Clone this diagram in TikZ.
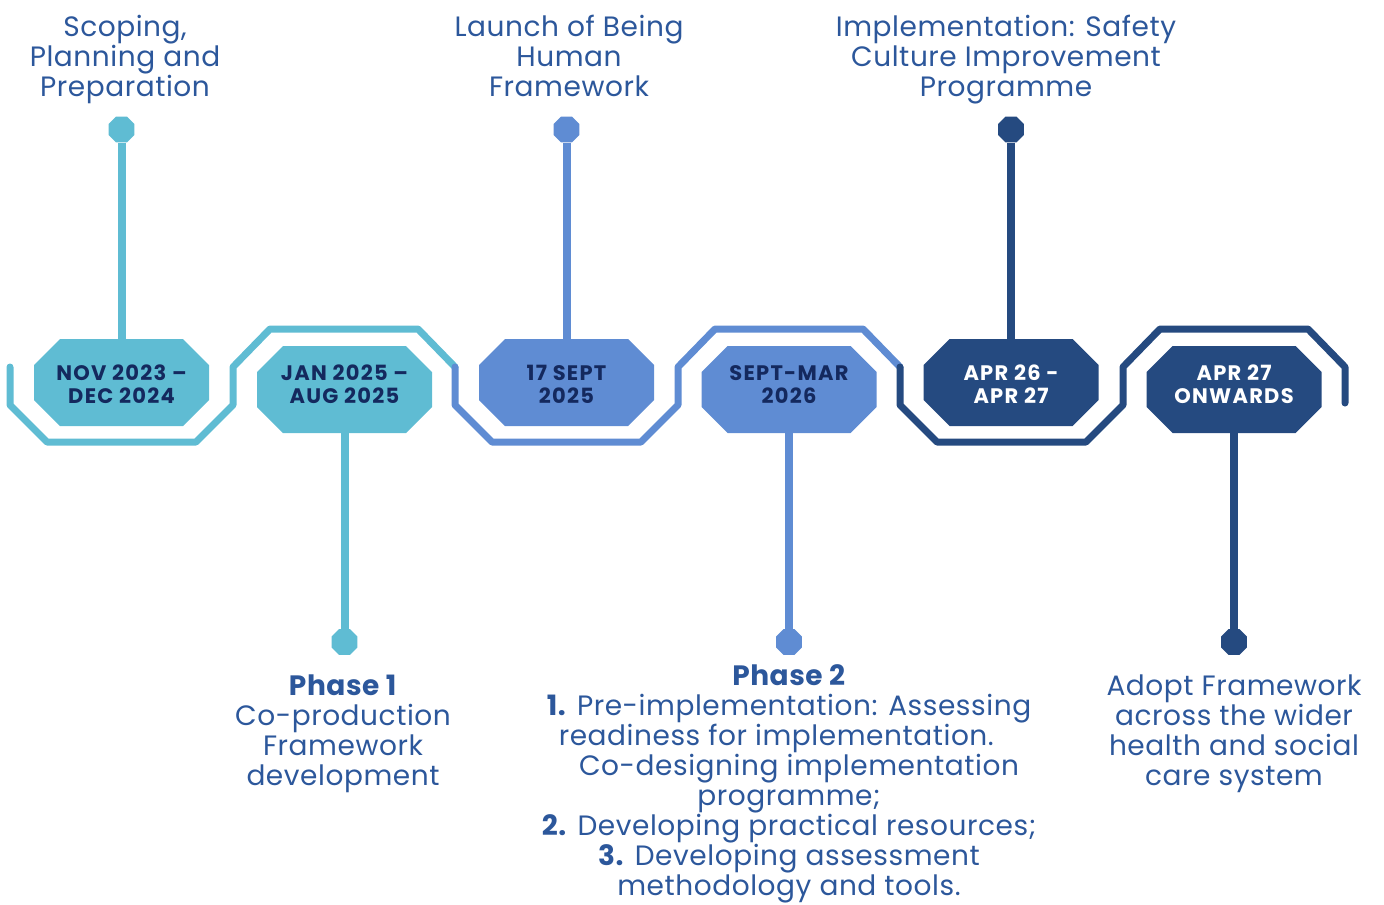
\documentclass[tikz,border=0pt]{standalone}
\usepackage{fontspec}
\setmainfont{Poppins}[LetterSpace=2]
\newfontfamily\badgefont{Poppins}[LetterSpace=6]
\usetikzlibrary{shapes.geometric}

\definecolor{cTeal}{HTML}{5FBCD3}
\definecolor{cBlue}{HTML}{5F8CD3}
\definecolor{cNavy}{HTML}{254A80}
\definecolor{cInk}{HTML}{14295E}
\definecolor{cLabel}{HTML}{2C579B}

% two-line badge caption, shifted vertically without changing its box
\newcommand\badgetext[3]{\raisebox{#1}[\height][\depth]{\begin{tabular}{@{}c@{}}#2\\#3\end{tabular}}}

\begin{document}
\begin{tikzpicture}[x=0.75pt,y=-0.75pt,
  track/.style={line width=5.25pt, line join=round, line cap=round},
  stem/.style={line width=6pt},
  badge/.style={rectangle, minimum width=131.25pt, minimum height=65.25pt, inner sep=0pt,
    font=\badgefont\bfseries\fontsize{15.75}{17}\selectfont, text=cInk,
    path picture={\fill[#1]
      ([xshift=19.5pt]path picture bounding box.north west)
      -- ([xshift=-19.5pt]path picture bounding box.north east)
      -- ([yshift=-19.5pt]path picture bounding box.north east)
      -- ([yshift=19.5pt]path picture bounding box.south east)
      -- ([xshift=-19.5pt]path picture bounding box.south east)
      -- ([xshift=19.5pt]path picture bounding box.south west)
      -- ([yshift=19.5pt]path picture bounding box.south west)
      -- ([yshift=-19.5pt]path picture bounding box.north west) -- cycle;}},
  dot/.style={regular polygon, regular polygon sides=8, minimum size=21pt,
    inner sep=0pt, fill=#1},
  lbl/.style={align=center, anchor=base, inner sep=0pt, text=cLabel,
    font=\fontsize{21}{22.5}\selectfont},
]
\useasboundingbox (0,0) rectangle (1384,904);

% winding track behind the badges
\draw[track, cTeal] (10,367) -- (10,405) -- (47,442) -- (196,442) -- (233,405)
  -- (233,367) -- (270,329) -- (418,329) -- (455,367);
\draw[track, cBlue] (455,367) -- (455,405) -- (492,442) -- (641,442) -- (678,405)
  -- (678,367) -- (715,329) -- (863,329) -- (900,367);
\draw[track, cNavy] (900,367) -- (900,405) -- (937,442) -- (1086,442) -- (1123,405)
  -- (1123,367) -- (1160,329) -- (1308,329) -- (1345,367) -- (1345,403);

% date badges
\node[badge=cTeal] (b1) at (121.5,382.5) {\badgetext{-3.75pt}{NOV 2023 –}{DEC 2024}};
\node[badge=cTeal] (b2) at (344.5,389.5) {\badgetext{1.5pt}{JAN 2025 –}{AUG 2025}};
\node[badge=cBlue] (b3) at (566.5,382.5) {\badgetext{-3.75pt}{17 SEPT}{2025}};
\node[badge=cBlue] (b4) at (789,389.5) {\badgetext{1.5pt}{SEPT-MAR}{2026}};
\node[badge=cNavy, text=white] (b5) at (1011,382.5) {\badgetext{-3.75pt}{APR 26 -}{APR 27}};
\node[badge=cNavy, text=white] (b6) at (1234,389.5) {\badgetext{1.5pt}{APR 27}{ONWARDS}};

% end dots of the stems
\node[dot=cTeal] (d1) at (121.5,129.5) {};
\node[dot=cTeal] (d2) at (344.5,642) {};
\node[dot=cBlue] (d3) at (566.5,129.5) {};
\node[dot=cBlue] (d4) at (789,642) {};
\node[dot=cNavy] (d5) at (1011,129.5) {};
\node[dot=cNavy] (d6) at (1234,642) {};

% stems
\draw[stem, cTeal] (d1) -- (b1);
\draw[stem, cTeal] (b2) -- (d2);
\draw[stem, cBlue] (d3) -- (b3);
\draw[stem, cBlue] (b4) -- (d4);
\draw[stem, cNavy] (d5) -- (b5);
\draw[stem, cNavy] (b6) -- (d6);

% milestone captions (placed by the baseline of their last line)
\node[lbl] (t1) at (125,96) {Scoping,\\Planning and\\Preparation};
\node[lbl] (t3) at (569,96) {Launch of Being\\Human\\Framework};
\node[lbl] (t5) at (1006,96) {Implementation: Safety\\Culture Improvement\\Programme};
\node[lbl] (c2) at (343,785) {\textbf{Phase 1}\\Co-production\\Framework\\development};
\node[lbl] (c4) at (789,895) {\textbf{Phase 2}\\\textbf{1.} Pre-implementation: Assessing\\
  readiness for implementation.\kern19pt\\\kern15pt Co-designing implementation\\
  programme;\\\textbf{2.} Developing practical resources;\\
  \textbf{3.} Developing assessment\\methodology and tools.};
\node[lbl] (c6) at (1234,785) {Adopt Framework\\across the wider\\health and social\\care system};
\end{tikzpicture}
\end{document}
